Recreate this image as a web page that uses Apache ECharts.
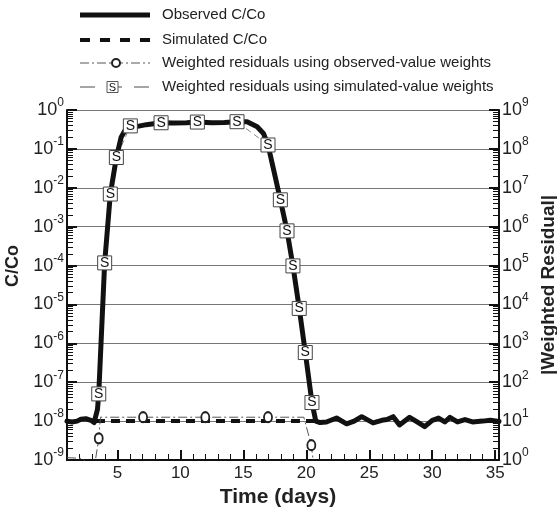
<!DOCTYPE html>
<html>
<head>
<meta charset="utf-8">
<script src="https://cdn.jsdelivr.net/npm/echarts@6/dist/echarts.min.js"></script>
<style>
  html, body { margin: 0; padding: 0; background: #fff; }
  #chart { width: 557px; height: 511px; }
</style>
</head>
<body>
<div id="chart"></div>
<script>
const FONT = '"Liberation Sans", Arial, Helvetica, sans-serif';

// Observed C/Co (left axis)
const obsDays = [1.0, 1.4, 1.8, 2.1, 2.5, 2.9, 3.15, 3.3, 3.42, 3.52, 3.99, 4.44, 4.92, 5.3, 5.7, 6.03, 6.6, 7.3, 8.47, 9.5,
    10.5, 11.35, 12.5, 13.5, 14.5, 15.3, 16.1, 16.6, 16.96, 17.45, 17.94, 18.47, 18.94, 19.44, 19.92, 20.45, 20.75,
    21.1, 21.6, 22.4, 23.2, 23.8, 24.4, 25.3, 26.0, 26.4, 26.9, 27.4, 28.2, 28.8, 29.4, 30.0, 30.5, 31.0, 31.4,
    32.0, 32.6, 33.2, 34.0, 34.6, 35.3];
const obsCC = [1.0e-8, 0.95e-8, 1.0e-8, 1.12e-8, 1.15e-8, 1.05e-8, 0.92e-8, 0.9e-8, 2.0e-8, 5.0e-8, 1.17e-4, 6.9e-3, 6.0e-2,
    0.2, 0.34, 0.39, 0.38, 0.42, 0.47, 0.46,
    0.47, 0.49, 0.47, 0.48, 0.5, 0.5, 0.37, 0.25, 0.126, 0.025, 4.9e-3, 7.8e-4, 9.8e-5, 7.9e-6, 5.8e-7, 3.0e-8, 1.0e-8,
    0.92e-8, 0.95e-8, 1.2e-8, 0.85e-8, 1.0e-8, 1.3e-8, 0.9e-8, 1.05e-8, 1.1e-8, 1.3e-8, 0.8e-8, 1.25e-8, 0.95e-8, 0.72e-8,
    1.05e-8, 1.2e-8, 0.95e-8, 1.25e-8, 0.95e-8, 1.1e-8, 0.95e-8, 1.0e-8, 1.05e-8, 0.98e-8];

// Simulated C/Co (left axis)
const simDays = [3.3, 20.75];
const simCC = [1.0e-8, 1.0e-8];

// |weighted residual|, observed-value weights (right axis)
const resObsDays = [1.0, 2.2, 2.6, 3.2, 3.26, 3.52, 3.66, 7.04, 11.98, 16.96, 19.8, 20.4, 20.56];
const resObsVals = [1.15, 1.1, 0.85, 0.85, 1.0, 3.6, 12.6, 12.6, 12.6, 12.6, 12.6, 2.4, 0.9];
const resObsMarkDays = [3.52, 7.04, 11.98, 16.96, 20.4];

// |weighted residual|, simulated-value weights (right axis)
const resSimDays = [3.52, 3.99, 4.44, 4.92, 6.03, 8.47, 11.35, 14.5, 16.96, 17.94, 18.47, 18.94, 19.44, 19.92, 20.45];
const resSimVals = [50, 1.17e5, 6.9e6, 6.0e7, 3.9e8, 4.7e8, 4.9e8, 5.0e8, 1.26e8, 4.9e6, 7.8e5, 9.8e4, 7.9e3, 5.8e2, 30];

const xMajorTicks = [5, 10, 15, 20, 25, 30, 35];
const legendNames = [
    'Observed C/Co',
    'Simulated C/Co',
    'Weighted residuals using observed-value weights',
    'Weighted residuals using simulated-value weights'
];

const zip = (xs, ys) => xs.map((x, i) => [x, ys[i]]);

// minor ticks: 2..9 in every decade, and every day on the time axis
function logMinors(lo, hi) {
    const v = [];
    for (let e = lo; e < hi; e++) {
        for (let m = 2; m <= 9; m++) v.push(m * Math.pow(10, e));
    }
    return v;
}
const xMinorTicks = [];
for (let d = 2; d <= 35; d++) if (d % 5 !== 0) xMinorTicks.push(d);

function powLabel() {
    return {
        formatter: v => '{b|10}{s|' + Math.round(Math.log10(v)) + '}',
        margin: 3,
        rich: {
            b: { fontSize: 18, fontFamily: FONT, color: '#222', lineHeight: 26 },
            s: { fontSize: 12, fontFamily: FONT, color: '#222', lineHeight: 12, verticalAlign: 'top' }
        }
    };
}
function axisBlack() {
    return { show: true, onZero: false, lineStyle: { color: '#111', width: 2 } };
}
function ticks(len, width, values) {
    const t = { show: true, inside: true, length: len, lineStyle: { color: '#111', width: width } };
    if (values) t.customValues = values;
    return t;
}
const nameStyle = { fontSize: 18, fontWeight: 'bold', fontFamily: FONT, color: '#222' };

const chart = echarts.init(document.getElementById('chart'));

const option = {
    animation: false,
    backgroundColor: '#fff',
    grid: { left: 67, right: 58, top: 110, bottom: 51, containLabel: false, outerBoundsMode: 'none' },
    xAxis: [
        {
            type: 'value', min: 1, max: 35.3, position: 'bottom',
            axisLine: axisBlack(),
            axisTick: ticks(10, 2, xMajorTicks),
            axisLabel: { customValues: xMajorTicks, fontSize: 17, fontFamily: FONT, color: '#222', margin: 5 },
            splitLine: { show: false },
            name: 'Time (days)', nameLocation: 'middle', nameGap: 24,
            nameTextStyle: Object.assign({}, nameStyle, { fontSize: 21, padding: [0, 10, 0, 0] })
        },
        {
            type: 'value', min: 1, max: 35.3, position: 'bottom',
            axisLine: { show: false },
            axisTick: ticks(6, 1, xMinorTicks),
            axisLabel: { show: false },
            splitLine: { show: false }
        }
    ],
    yAxis: [
        {
            type: 'log', logBase: 10, min: 1e-9, max: 1, position: 'left', splitNumber: 9,
            axisLine: axisBlack(), axisTick: ticks(10, 2), axisLabel: powLabel(),
            splitLine: { show: true, lineStyle: { color: '#777', width: 1 } },
            name: 'C/Co', nameLocation: 'middle', nameGap: 40,
            nameTextStyle: Object.assign({}, nameStyle, { padding: [0, 0, 0, 38] })
        },
        {
            type: 'log', logBase: 10, min: 1, max: 1e9, position: 'right', splitNumber: 9,
            axisLine: axisBlack(), axisTick: ticks(10, 2), axisLabel: powLabel(),
            splitLine: { show: false },
            name: '|Weighted Residual|', nameLocation: 'middle', nameGap: 37,
            nameTextStyle: Object.assign({}, nameStyle, { fontSize: 19 })
        },
        {
            type: 'log', logBase: 10, min: 1e-9, max: 1, position: 'left',
            axisLine: { show: false },
            axisTick: ticks(6, 1, logMinors(-9, 0)),
            axisLabel: { show: false }, splitLine: { show: false }
        },
        {
            type: 'log', logBase: 10, min: 1, max: 1e9, position: 'right',
            axisLine: { show: false },
            axisTick: ticks(6, 1, logMinors(0, 9)),
            axisLabel: { show: false }, splitLine: { show: false }
        }
    ],
    series: [
        {
            name: legendNames[3] + ' (line)', type: 'line', yAxisIndex: 1, z: 2, silent: true,
            data: zip(resSimDays, resSimVals), symbol: 'none',
            lineStyle: { color: '#888', width: 1, type: [6, 4] }
        },
        {
            name: legendNames[1], type: 'line', yAxisIndex: 0, z: 3,
            data: zip(simDays, simCC), symbol: 'none',
            lineStyle: { color: '#111', width: 4, type: [9, 6] }
        },
        {
            name: legendNames[0], type: 'line', yAxisIndex: 0, z: 4,
            data: zip(obsDays, obsCC), symbol: 'none',
            lineStyle: { color: '#111', width: 5, cap: 'round', join: 'round' }
        },
        {
            name: legendNames[2], type: 'line', yAxisIndex: 1, z: 5,
            data: resObsDays.map((d, i) => ({
                value: [d, resObsVals[i]],
                symbol: resObsMarkDays.includes(d) ? 'emptyCircle' : 'none'
            })),
            symbolSize: [8, 10],
            itemStyle: { color: '#222' },
            lineStyle: { color: '#555', width: 1, type: [9, 3, 2, 3] }
        },
        {
            name: legendNames[3], type: 'scatter', yAxisIndex: 1, z: 6,
            data: zip(resSimDays, resSimVals),
            symbol: 'rect', symbolSize: 14,
            itemStyle: { color: '#fff', borderColor: '#444', borderWidth: 1, opacity: 1 },
            label: { show: true, formatter: 'S', position: 'inside', fontSize: 14, fontFamily: FONT, color: '#111' }
        }
    ],
    graphic: [
        { type: 'line', shape: { x1: 80, y1: 15, x2: 150, y2: 15 }, style: { stroke: '#111', lineWidth: 5 } },
        { type: 'line', shape: { x1: 80, y1: 40, x2: 150, y2: 40 }, style: { stroke: '#111', lineWidth: 4, lineDash: [10, 10] } },
        { type: 'line', shape: { x1: 80, y1: 63, x2: 150, y2: 63 }, style: { stroke: '#555', lineWidth: 1, lineDash: [9, 3, 2, 3] } },
        { type: 'circle', shape: { cx: 116, cy: 63, r: 4 }, style: { fill: '#fff', stroke: '#222', lineWidth: 2 } },
        { type: 'line', shape: { x1: 80, y1: 87, x2: 150, y2: 87 }, style: { stroke: '#888', lineWidth: 1.5, lineDash: [15, 12] } },
        { type: 'rect', shape: { x: 107, y: 81.5, width: 11, height: 11 }, style: { fill: '#fff', stroke: '#555', lineWidth: 1 } },
        { type: 'text', x: 112.5, y: 87.5, style: { text: 'S', font: '11px ' + FONT, fill: '#111', align: 'center', verticalAlign: 'middle' } }
    ].concat(legendNames.map((n, i) => ({
        type: 'text', x: 162, y: [15, 40, 63, 87][i],
        style: { text: n, font: '15px ' + FONT, fill: '#222', align: 'left', verticalAlign: 'middle' }
    })))
};

chart.setOption(option);
</script>
</body>
</html>
